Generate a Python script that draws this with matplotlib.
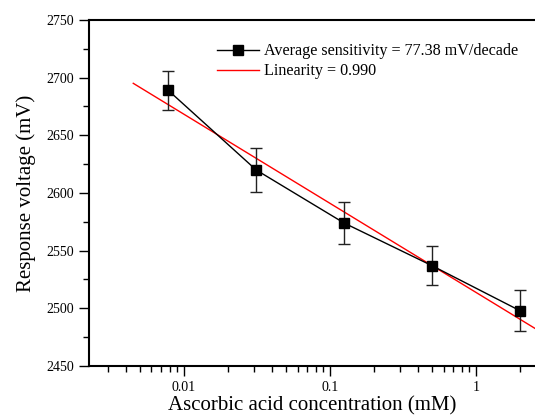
import numpy as np
import matplotlib.pyplot as plt
from matplotlib.lines import Line2D
from matplotlib.ticker import FixedLocator, LogLocator, NullFormatter, MultipleLocator

plt.rcParams['font.family'] = ['Liberation Serif', 'DejaVu Serif']

# data
conc = [0.0078125, 0.03125, 0.125, 0.5, 2.0]          # mM
voltage = [2689, 2620, 2574, 2537, 2498]              # mV
err = [17, 19, 18.5, 17, 17.5]                        # mV
fit_range = [0.0045, 3.0]

slope, intercept = np.polyfit(np.log10(conc), voltage, 1)
fit_x = np.array(fit_range)
fit_y = intercept + slope * np.log10(fit_x)

fig = plt.figure(figsize=(5.35, 4.15), dpi=100)
ax = fig.add_axes([0.1664, 0.1181, 0.8336, 0.8337])

ax.errorbar(conc, voltage, yerr=err, color='black', marker='s', markersize=7,
            linewidth=1, elinewidth=1, capsize=4, capthick=1, ecolor='#222222',
            zorder=3)
ax.plot(fit_x, fit_y, color='red', linewidth=1, zorder=2)

ax.set_xscale('log')
ax.set_xlim(0.00224, 2.54)
ax.set_ylim(2450, 2750)

ax.xaxis.set_major_locator(FixedLocator([0.01, 0.1, 1]))
ax.set_xticklabels(['0.01', '0.1', '1'])
ax.xaxis.set_minor_locator(LogLocator(base=10, subs=np.arange(2, 10)))
ax.xaxis.set_minor_formatter(NullFormatter())
ax.yaxis.set_major_locator(MultipleLocator(50))
ax.yaxis.set_minor_locator(MultipleLocator(25))

ax.tick_params(which='both', direction='out', labelsize=10, width=1)
ax.tick_params(which='major', length=7)
ax.tick_params(which='minor', length=4)
for s in ['left', 'bottom', 'top']:
    ax.spines[s].set_linewidth(1.5)
ax.spines['right'].set_visible(False)

ax.set_xlabel('Ascorbic acid concentration (mM)', fontsize=15, labelpad=2)
ax.set_ylabel('Response voltage (mV)', fontsize=15, labelpad=8)

handles = [
    Line2D([], [], color='black', marker='s', markersize=7, linewidth=1),
    Line2D([], [], color='red', linewidth=1),
]
labels = ['Average sensitivity = 77.38 mV/decade', 'Linearity = 0.990']
ax.legend(handles, labels, loc='upper left', bbox_to_anchor=(0.255, 0.975),
          frameon=False, fontsize=11.6, handlelength=2.6, handletextpad=0.3,
          labelspacing=0.25)

fig.savefig('out.png', dpi=100)
